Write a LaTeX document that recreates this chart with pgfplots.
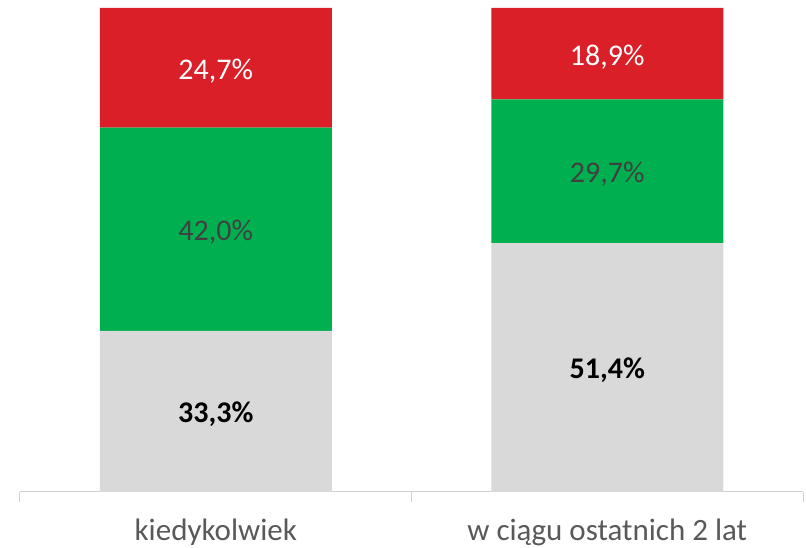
\documentclass[border=0pt]{standalone}
\usepackage{pgfplots}
\pgfplotsset{compat=1.18}
\usepackage{fontspec}
\setmainfont{Carlito}
\definecolor{cred}{HTML}{DA1F28}
\definecolor{cgreen}{HTML}{00B050}
\definecolor{cgray}{HTML}{D9D9D9}
\definecolor{axgray}{HTML}{D0D0D0}
\definecolor{lbl}{HTML}{404040}
\definecolor{txt}{HTML}{595959}
\begin{document}
\begin{tikzpicture}
\useasboundingbox (-20pt,-56pt) rectangle (786pt,492pt);
\begin{axis}[
  at={(0,0)}, anchor=south west,
  scale only axis, width=783pt, height=484pt,
  xmin=-0.5, xmax=1.5, ymin=0, ymax=100,
  ybar stacked, bar width=232pt,
  axis y line=none,
  axis x line*=bottom,
  x axis line style={draw=axgray, line width=1pt},
  xtick={0,1},
  xticklabels={kiedykolwiek, w ciągu ostatnich 2 lat},
  major tick length=0pt,
  xticklabel style={font=\fontsize{31}{36}\selectfont, text=txt, yshift=-23pt},
  extra x ticks={-0.5,0.5,1.5},
  extra x tick labels={},
  extra x tick style={tick align=outside, major tick length=10pt, tick style={draw=axgray, line width=1pt}},
  clip=false,
]
\addplot[fill=cgray, draw=none] coordinates {(0,33.3) (1,51.4)};
\addplot[fill=cgreen, draw=none] coordinates {(0,42.0) (1,29.7)};
\addplot[fill=cred, draw=none] coordinates {(0,24.7) (1,18.9)};
\coordinate (a1) at (axis cs:0,16.65);
\coordinate (a2) at (axis cs:0,54.3);
\coordinate (a3) at (axis cs:0,87.65);
\coordinate (b1) at (axis cs:1,25.7);
\coordinate (b2) at (axis cs:1,66.25);
\coordinate (b3) at (axis cs:1,90.55);
\end{axis}
\tikzset{lab/.style={font=\fontsize{30}{35}\selectfont, yshift=-3pt}}
\node[lab, font=\fontsize{30}{35}\selectfont\bfseries, text=black] at (a1) {33,3\%};
\node[lab, text=lbl] at (a2) {42,0\%};
\node[lab, text=white] at (a3) {24,7\%};
\node[lab, font=\fontsize{30}{35}\selectfont\bfseries, text=black] at (b1) {51,4\%};
\node[lab, text=lbl] at (b2) {29,7\%};
\node[lab, text=white] at (b3) {18,9\%};
\end{tikzpicture}
\end{document}
